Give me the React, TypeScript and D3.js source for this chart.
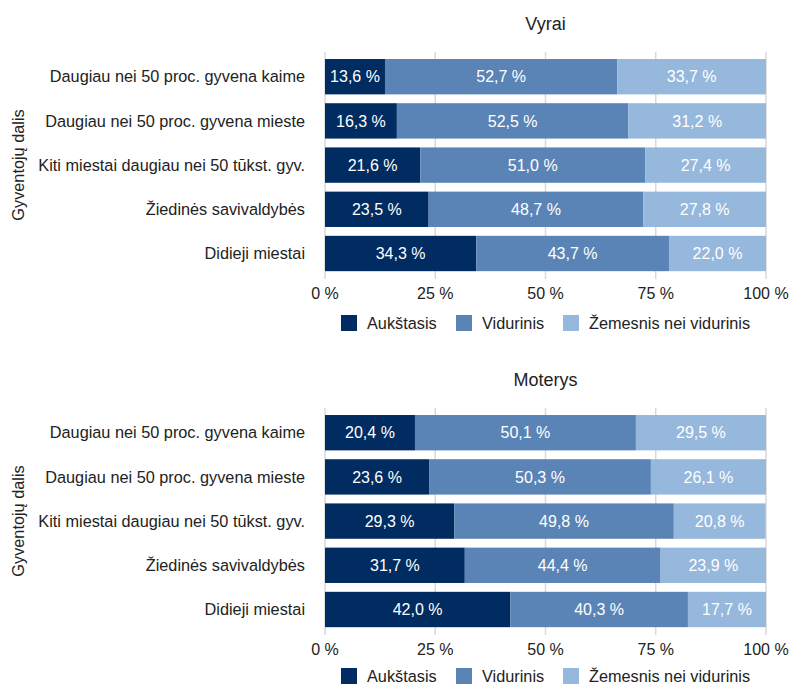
import React from "react";
import * as d3 from "d3";

const categories = [
  "Daugiau nei 50 proc. gyvena kaime",
  "Daugiau nei 50 proc. gyvena mieste",
  "Kiti miestai daugiau nei 50 tūkst. gyv.",
  "Žiedinės savivaldybės",
  "Didieji miestai",
];
const seriesNames = ["Aukštasis", "Vidurinis", "Žemesnis nei vidurinis"];
const colors = ["#002c61", "#5b84b6", "#95b8dc"];

const vyraiAukstasis = [13.6, 16.3, 21.6, 23.5, 34.3];
const vyraiVidurinis = [52.7, 52.5, 51.0, 48.7, 43.7];
const vyraiZemesnis = [33.7, 31.2, 27.4, 27.8, 22.0];

const moterysAukstasis = [20.4, 23.6, 29.3, 31.7, 42.0];
const moterysVidurinis = [50.1, 50.3, 49.8, 44.4, 40.3];
const moterysZemesnis = [29.5, 26.1, 20.8, 23.9, 17.7];

const xTicks = [0, 25, 50, 75, 100];
const panelTitles = ["Vyrai", "Moterys"];
const yAxisTitle = "Gyventojų dalis";

const FONT = "'Liberation Sans', Arial, Helvetica, sans-serif";

const fmt = (v: number) => d3.format(".1f")(v).replace(".", ",") + " %";

function Panel({ title, series, dy, legendY }: { title: string; series: number[][]; dy: number; legendY: number }) {
  const x = d3.scaleLinear().domain([0, 100]).range([325, 766]);
  const y = d3.scaleBand<string>().domain(categories).range([54.6, 275.6]).paddingInner(0.2).paddingOuter(0.1);
  const stackData = categories.map((c, i) => {
    const o: any = { cat: c };
    seriesNames.forEach((s, k) => (o[s] = series[k][i]));
    return o;
  });
  const stacked = d3.stack<any>().keys(seriesNames)(stackData);
  const legendX = [341, 456, 563];
  return (
    <g transform={`translate(0,${dy})`}>
      <text x={545.5} y={30} textAnchor="middle" fontSize={18} fill="#222">{title}</text>
      {xTicks.map((t) => (
        <line key={t} x1={x(t)} x2={x(t)} y1={52} y2={279} stroke="#d9d9d9" strokeWidth={1.5} />
      ))}
      {stacked.map((layer, k) => (
        <g key={layer.key}>
          {layer.map((d, i) => {
            const x0 = x(d[0]);
            const x1 = x(d[1]);
            const yy = y(categories[i])!;
            return (
              <g key={i}>
                <rect x={x0} y={yy} width={x1 - x0} height={y.bandwidth()} fill={colors[k]} />
                <text x={(x0 + x1) / 2} y={yy + y.bandwidth() / 2} dy="0.35em" textAnchor="middle" fontSize={16} fill="#fff">
                  {fmt(series[k][i])}
                </text>
              </g>
            );
          })}
        </g>
      ))}
      {categories.map((c) => (
        <text key={c} x={305} y={y(c)! + y.bandwidth() / 2} dy="0.35em" textAnchor="end" fontSize={16.3} fill="#222">
          {c}
        </text>
      ))}
      <text transform={`translate(24,${165}) rotate(-90)`} textAnchor="middle" fontSize={16.3} fill="#222">{yAxisTitle}</text>
      {xTicks.map((t) => (
        <text key={t} x={x(t)} y={298.5} textAnchor="middle" fontSize={16} fill="#222">{t} %</text>
      ))}
      {seriesNames.map((s, k) => (
        <g key={s}>
          <rect x={legendX[k]} y={legendY} width={16} height={16} fill={colors[k]} />
          <text x={legendX[k] + 26} y={legendY + 8} dy="0.35em" fontSize={16.3} fill="#222">{s}</text>
        </g>
      ))}
    </g>
  );
}

export default function App() {
  return (
    <svg width={791} height={692} style={{ position: "absolute", left: 0, top: 0, fontFamily: FONT }}>
      <rect width={791} height={692} fill="#fff" />
      <Panel title={panelTitles[0]} series={[vyraiAukstasis, vyraiVidurinis, vyraiZemesnis]} dy={0} legendY={315} />
      <Panel title={panelTitles[1]} series={[moterysAukstasis, moterysVidurinis, moterysZemesnis]} dy={356} legendY={312} />
    </svg>
  );
}
